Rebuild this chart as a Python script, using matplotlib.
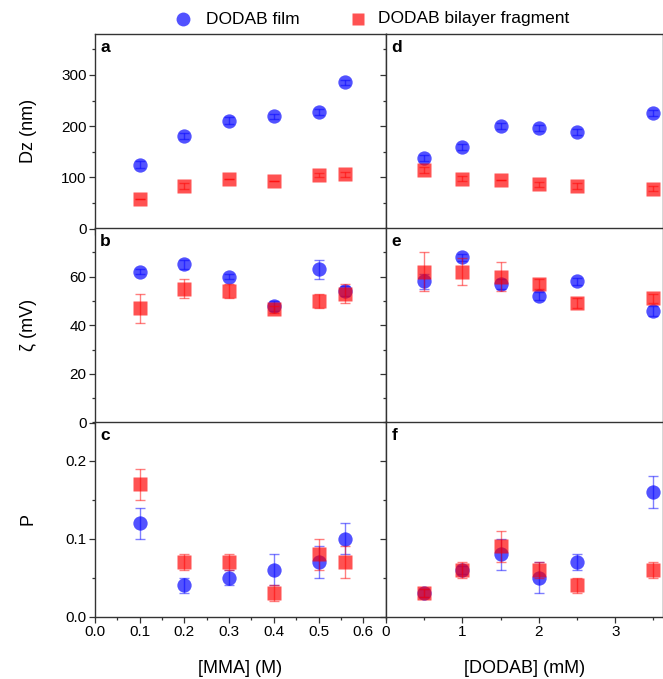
import numpy as np
import matplotlib.pyplot as plt
from matplotlib.ticker import MultipleLocator

plt.rcParams['font.family'] = ['Liberation Sans', 'DejaVu Sans']

# x values
mma = np.array([0.1, 0.2, 0.3, 0.4, 0.5, 0.56])
dodab = np.array([0.5, 1.0, 1.5, 2.0, 2.5, 3.5])

# Dz (nm)
dz_mma_film = [125, 181, 211, 219, 228, 286]
dz_mma_film_err = [6, 6, 6, 5, 6, 5]
dz_mma_frag = [57, 83, 97, 93, 104, 106]
dz_mma_frag_err = [0, 6, 0, 0, 4, 5]
dz_dod_film = [138, 160, 200, 197, 189, 225]
dz_dod_film_err = [6, 6, 6, 6, 6, 6]
dz_dod_frag = [114, 97, 94, 86, 83, 78]
dz_dod_frag_err = [6, 5, 0, 5, 5, 5]

# zeta potential (mV)
z_mma_film = [62, 65, 60, 48, 63, 54]
z_mma_film_err = [1, 2, 1, 2, 4, 2]
z_mma_frag = [47, 55, 54, 46.5, 50, 53]
z_mma_frag_err = [6, 4, 3, 1.5, 3, 4]
z_dod_film = [58, 68, 57, 52, 58, 46]
z_dod_film_err = [3, 1.5, 2, 1.5, 1.5, 2]
z_dod_frag = [62, 62, 60, 57, 49, 51]
z_dod_frag_err = [8, 5.5, 6, 2, 2, 2]

# polydispersity
p_mma_film = [0.12, 0.04, 0.05, 0.06, 0.07, 0.10]
p_mma_film_err = [0.02, 0.01, 0.01, 0.02, 0.02, 0.02]
p_mma_frag = [0.17, 0.07, 0.07, 0.03, 0.08, 0.07]
p_mma_frag_err = [0.02, 0.01, 0.01, 0.01, 0.02, 0.02]
p_dod_film = [0.03, 0.06, 0.08, 0.05, 0.07, 0.16]
p_dod_film_err = [0.005, 0.005, 0.02, 0.02, 0.01, 0.02]
p_dod_frag = [0.03, 0.06, 0.09, 0.06, 0.04, 0.06]
p_dod_frag_err = [0.005, 0.01, 0.02, 0.01, 0.01, 0.01]

blue = '#0000ff'
red = '#ff0000'
alpha = 0.68

fig = plt.figure(figsize=(6.63, 6.79), dpi=100)

W, H = 663, 679
row_top = [34, 228, 422]
row_h = 194.5
lx0, lx1 = 95, 386
rx0, rx1 = 386, 663


def make_ax(x0, x1, ytop):
    return fig.add_axes([x0 / W, 1 - (ytop + row_h) / H, (x1 - x0) / W, row_h / H])


def draw(ax, x, film, film_err, frag, frag_err):
    ax.plot(x, film, 'o', color=blue, alpha=alpha, ms=10.3, mec='none', zorder=3)
    ax.errorbar(x, film, yerr=film_err, fmt='none', ecolor=blue, alpha=0.5,
                elinewidth=1, capsize=3.5, capthick=1, zorder=4)
    ax.plot(x, frag, 's', color=red, alpha=alpha, ms=9.5, mec='none', zorder=5)
    ax.errorbar(x, frag, yerr=frag_err, fmt='none', ecolor=red, alpha=0.5,
                elinewidth=1, capsize=3.5, capthick=1, zorder=6)


panels = [
    ('a', 'd', dz_mma_film, dz_mma_film_err, dz_mma_frag, dz_mma_frag_err,
     dz_dod_film, dz_dod_film_err, dz_dod_frag, dz_dod_frag_err,
     (0, 380), 100, 50, 'Dz (nm)', '{:.0f}'),
    ('b', 'e', z_mma_film, z_mma_film_err, z_mma_frag, z_mma_frag_err,
     z_dod_film, z_dod_film_err, z_dod_frag, z_dod_frag_err,
     (0, 79.99), 20, 10, 'ζ (mV)', '{:.0f}'),
    ('c', 'f', p_mma_film, p_mma_film_err, p_mma_frag, p_mma_frag_err,
     p_dod_film, p_dod_film_err, p_dod_frag, p_dod_frag_err,
     (0, 0.25), 0.1, 0.05, 'P', '{:.1f}'),
]

for i, (la, lb, lf, lfe, lr, lre, rf, rfe, rr, rre, ylim, ymaj, ymin, ylab, yfmt) in enumerate(panels):
    axl = make_ax(lx0, lx1, row_top[i])
    axr = make_ax(rx0, rx1, row_top[i])
    draw(axl, mma, lf, lfe, lr, lre)
    draw(axr, dodab, rf, rfe, rr, rre)

    axl.set_xlim(0, 0.651)
    axr.set_xlim(0, 3.625)
    for ax in (axl, axr):
        ax.set_ylim(*ylim)
        ax.yaxis.set_major_locator(MultipleLocator(ymaj))
        ax.yaxis.set_minor_locator(MultipleLocator(ymin))
        ax.tick_params(which='both', direction='out', labelsize=11, color='#333333',
                       width=0.9, pad=2)
        ax.tick_params(which='major', length=4)
        ax.tick_params(which='minor', length=2.5)
        for s in ax.spines.values():
            s.set_color('#333333')
            s.set_linewidth(1)
    axl.xaxis.set_major_locator(MultipleLocator(0.1))
    axl.xaxis.set_minor_locator(MultipleLocator(0.05))
    axr.xaxis.set_major_locator(MultipleLocator(1))
    axr.xaxis.set_minor_locator(MultipleLocator(0.5))
    axl.yaxis.set_major_formatter(plt.FuncFormatter(lambda v, p, f=yfmt: f.format(v)))
    axr.tick_params(axis='y', labelleft=False)
    if i < 2:
        axl.tick_params(axis='x', labelbottom=False)
        axr.tick_params(axis='x', labelbottom=False)
    else:
        axl.xaxis.set_major_formatter(plt.FuncFormatter(lambda v, p: f'{v:.1f}'))
        axl.set_xlabel('[MMA] (M)', fontsize=13, labelpad=15)
        axr.set_xlabel('[DODAB] (mM)', fontsize=13, labelpad=15)

    axl.set_ylabel(ylab, fontsize=13)
    axl.yaxis.set_label_coords(-0.2, 0.5)
    axl.text(0.018, 0.93, la, transform=axl.transAxes, fontsize=12.5,
             fontweight='bold', va='center')
    axr.text(0.02, 0.93, lb, transform=axr.transAxes, fontsize=12.5,
             fontweight='bold', va='center')

# shared legend across the top
fig.lines.append(plt.Line2D([183 / W], [1 - 19 / H], marker='o', ms=10, color=blue,
                            alpha=alpha, mec='none', transform=fig.transFigure))
fig.text(206 / W, 1 - 19 / H, 'DODAB film', fontsize=12.5, va='center')
fig.lines.append(plt.Line2D([358 / W], [1 - 19 / H], marker='s', ms=9, color=red,
                            alpha=alpha, mec='none', transform=fig.transFigure))
fig.text(378 / W, 1 - 19 / H, 'DODAB bilayer fragment', fontsize=12.5, va='center')

fig.savefig('out.png', dpi=100)
